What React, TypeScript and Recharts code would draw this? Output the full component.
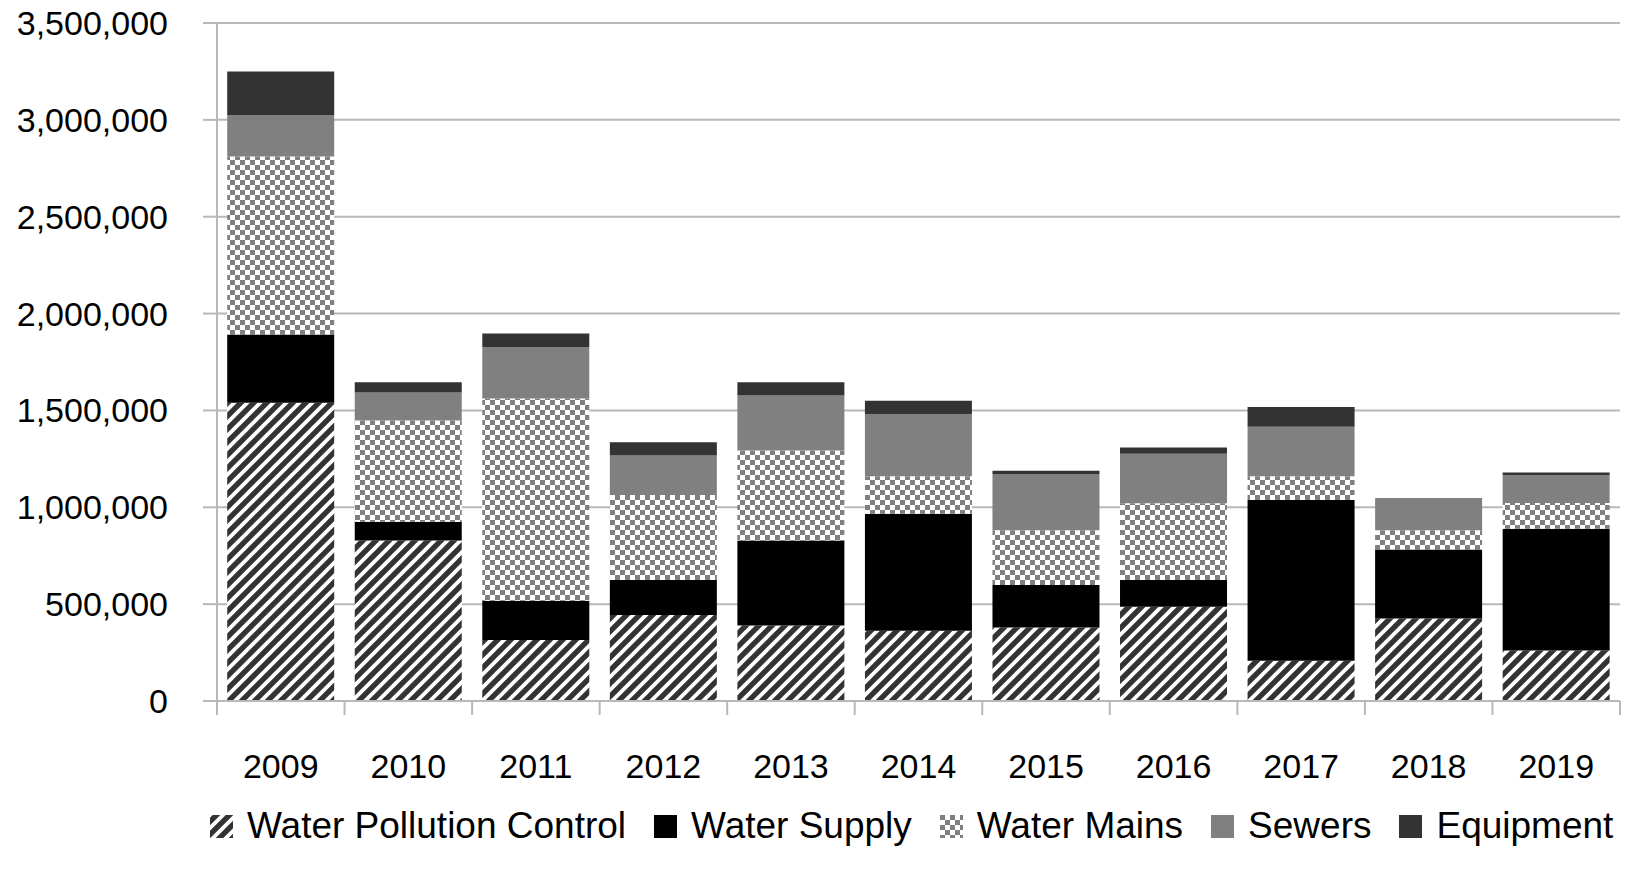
import React from 'react';
import { BarChart, Bar, XAxis, YAxis, CartesianGrid, Legend } from 'recharts';

const years = ['2009', '2010', '2011', '2012', '2013', '2014', '2015', '2016', '2017', '2018', '2019'];
const waterPollutionControl = [1539000, 828000, 315000, 444000, 390000, 363000, 379000, 486000, 208000, 426000, 261000];
const waterSupply = [353000, 97000, 203000, 181000, 438000, 604000, 220000, 139000, 829000, 356000, 628000];
const waterMains = [919000, 523000, 1043000, 439000, 465000, 193000, 283000, 396000, 123000, 99000, 133000];
const sewers = [214000, 145000, 267000, 203000, 284000, 320000, 290000, 256000, 256000, 167000, 143000];
const equipment = [225000, 53000, 69000, 69000, 69000, 70000, 17000, 31000, 102000, 0, 14000];
const yTicks = [0, 500000, 1000000, 1500000, 2000000, 2500000, 3000000, 3500000];

const seriesNames = ['Water Pollution Control', 'Water Supply', 'Water Mains', 'Sewers', 'Equipment'];

const data = years.map((y, i) => ({
  year: y,
  wpc: waterPollutionControl[i],
  supply: waterSupply[i],
  mains: waterMains[i],
  sewers: sewers[i],
  equip: equipment[i],
}));

const W = 1625;
const H = 877;
const Y_W = 217;
const M_RIGHT = 5;
const BAND = (W - Y_W - M_RIGHT) / years.length;
const GRID = '#b8b8b8';
const FONT = '"Liberation Sans", Arial, sans-serif';

function PatternDefs({ prefix }: { prefix: string }) {
  return (
    <defs>
      <pattern id={`${prefix}hatch`} patternUnits="userSpaceOnUse" width="13" height="13">
        <rect width="13" height="13" fill="#333333" />
        <path d="M-4,4 L4,-4 M0,13 L13,0 M9,17 L17,9" stroke="#ffffff" strokeWidth="3.8" />
      </pattern>
      <pattern id={`${prefix}check`} patternUnits="userSpaceOnUse" width="10" height="10">
        <rect width="10" height="10" fill="#ffffff" />
        <rect x="0" y="0" width="5" height="5" fill="#808080" />
        <rect x="5" y="5" width="5" height="5" fill="#808080" />
      </pattern>
    </defs>
  );
}

const legendFills = ['url(#lghatch)', '#000000', 'url(#lgcheck)', '#808080', '#333333'];

function CustomLegend() {
  return (
    <div
      style={{
        display: 'flex',
        justifyContent: 'flex-start',
        alignItems: 'center',
        paddingLeft: 210,
        height: 50,
        fontFamily: FONT,
        fontSize: 37,
        color: '#000',
        whiteSpace: 'nowrap',
      }}
    >
      {seriesNames.map((name, i) => (
        <div key={name} style={{ display: 'flex', alignItems: 'center', marginLeft: i === 0 ? 0 : 28 }}>
          <svg width={23} height={23} style={{ marginRight: 14 }}>
            {i === 0 && <PatternDefs prefix="lg" />}
            <rect width={23} height={23} fill={legendFills[i]} />
          </svg>
          <span>{name}</span>
        </div>
      ))}
    </div>
  );
}

function XTick(props: any) {
  const { x, y, payload, index } = props;
  const left = x - BAND / 2;
  return (
    <g>
      <line x1={left} x2={left} y1={y} y2={y + 14} stroke={GRID} strokeWidth={2} />
      {index === years.length - 1 && (
        <line x1={x + BAND / 2} x2={x + BAND / 2} y1={y} y2={y + 14} stroke={GRID} strokeWidth={2} />
      )}
      <text x={x} y={y + 77} textAnchor="middle" fill="#000" fontFamily={FONT} fontSize={34}>
        {payload.value}
      </text>
    </g>
  );
}

export default function App() {
  return (
    <div style={{ position: 'relative', width: W, height: H, background: '#fff' }}>
      <style>{`body{margin:0;}`}</style>
      <BarChart
        width={W}
        height={H}
        data={data}
        margin={{ top: 23, right: M_RIGHT, left: 0, bottom: 26 }}
        barCategoryGap="8%"
      >
        <PatternDefs prefix="ch" />
        <CartesianGrid vertical={false} stroke={GRID} strokeWidth={2} />
        <XAxis
          dataKey="year"
          height={100}
          tickLine={false}
          tickSize={0}
          tickMargin={0}
          axisLine={{ stroke: GRID, strokeWidth: 2 }}
          tick={<XTick />}
          interval={0}
        />
        <YAxis
          width={Y_W}
          domain={[0, 3500000]}
          ticks={yTicks}
          interval={0}
          tickSize={14}
          tickMargin={35}
          axisLine={{ stroke: GRID, strokeWidth: 2 }}
          tickLine={{ stroke: GRID, strokeWidth: 2 }}
          tick={{ fill: '#000', fontFamily: FONT, fontSize: 34 }}
          tickFormatter={(v: number) => v.toLocaleString('en-US')}
        />
        <Legend verticalAlign="bottom" content={<CustomLegend />} wrapperStyle={{ left: 0, width: W }} />
        <Bar dataKey="wpc" stackId="a" fill="url(#chhatch)" isAnimationActive={false} />
        <Bar dataKey="supply" stackId="a" fill="#000000" isAnimationActive={false} />
        <Bar dataKey="mains" stackId="a" fill="url(#chcheck)" isAnimationActive={false} />
        <Bar dataKey="sewers" stackId="a" fill="#808080" isAnimationActive={false} />
        <Bar dataKey="equip" stackId="a" fill="#333333" isAnimationActive={false} />
      </BarChart>
    </div>
  );
}
